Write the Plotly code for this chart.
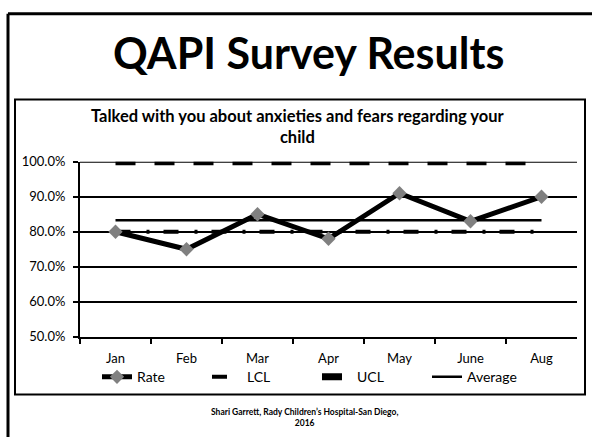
import plotly.graph_objects as go

months = ["Jan", "Feb", "Mar", "Apr", "May", "June", "Aug"]
rate = [80.0, 75.0, 85.0, 78.0, 91.0, 83.0, 90.0]
lcl = [80.0, 80.0, 80.0, 80.0, 80.0, 80.0, 80.0]
ucl = [100.0, 100.0, 100.0, 100.0, 100.0, 100.0, 100.0]
average = [83.3, 83.3, 83.3, 83.3, 83.3, 83.3, 83.3]
y_ticks = [50, 60, 70, 80, 90, 100]
y_tick_labels = ["50.0%", "60.0%", "70.0%", "80.0%", "90.0%", "100.0%"]

W, H = 592, 445
FONT = "Lato"

fig = go.Figure()
fig.add_trace(go.Scatter(x=months, y=lcl, name="LCL", mode="lines",
                         line=dict(color="black", width=4, dash="15px,16px,3px,14px")))
fig.add_trace(go.Scatter(x=months, y=ucl, name="UCL", mode="lines",
                         line=dict(color="black", width=7, dash="20px,19px")))
fig.add_trace(go.Scatter(x=months, y=average, name="Average", mode="lines",
                         line=dict(color="black", width=2.5)))
fig.add_trace(go.Scatter(x=months, y=rate, name="Rate", mode="lines+markers",
                         line=dict(color="black", width=5),
                         marker=dict(symbol="diamond", size=11, color="#808080")))

def px_x(p):
    return p / W

def px_y(p):
    return 1 - p / H

X0, X1 = px_x(80), px_x(577)
shapes = [
    # outer slide frame
    dict(type="line", xref="paper", yref="paper", x0=px_x(8), x1=1.0, y0=px_y(6), y1=px_y(6),
         line=dict(color="black", width=3)),
    dict(type="line", xref="paper", yref="paper", x0=px_x(8), x1=px_x(8), y0=px_y(6), y1=0,
         line=dict(color="black", width=3)),
    # chart box
    dict(type="rect", xref="paper", yref="paper", x0=px_x(15), x1=px_x(585), y0=px_y(95), y1=px_y(401),
         line=dict(color="black", width=2)),
    # top gridline at 100%
    dict(type="line", xref="paper", yref="y", x0=X0, x1=X1, y0=100, y1=100,
         line=dict(color="black", width=2), layer="above"),
]

annotations = [
    dict(text="<b>QAPI Survey Results</b>", x=px_x(308), y=px_y(46), xref="paper", yref="paper",
         showarrow=False, font=dict(family=FONT, size=43, color="black"), xanchor="center", yanchor="middle"),
    dict(text="<b>Talked with you about anxieties and fears regarding your<br>child</b>",
         x=px_x(298), y=px_y(123), xref="paper", yref="paper", showarrow=False,
         font=dict(family=FONT, size=16.5, color="black"), xanchor="center", yanchor="middle"),
    dict(text="<b>Shari Garrett, Rady Children’s Hospital-San Diego,<br>2016</b>",
         x=px_x(304), y=px_y(425), xref="paper", yref="paper", showarrow=False,
         font=dict(family=FONT, size=8.5, color="black"), xanchor="center", yanchor="middle"),
]

fig.update_layout(
    width=W, height=H, margin=dict(l=0, r=0, t=0, b=0),
    paper_bgcolor="white", plot_bgcolor="white",
    font=dict(family=FONT, color="black"),
    shapes=shapes, annotations=annotations,
    legend=dict(orientation="h", x=px_x(97), y=px_y(383), xanchor="left", yanchor="middle",
                traceorder="normal", entrywidth=65, entrywidthmode="pixels",
                font=dict(family=FONT, size=14, color="black"), bgcolor="rgba(0,0,0,0)"),
    xaxis=dict(domain=[X0, X1], type="category", range=[-0.5, 6.5],
               showline=True, linecolor="black", linewidth=2, showgrid=False,
               ticks="outside", ticklen=5, tickcolor="black", tickwidth=1.5, tickson="boundaries",
               ticklabelstandoff=9,
               tickfont=dict(family=FONT, size=13, color="black"), fixedrange=True),
    yaxis=dict(domain=[px_y(341), px_y(159.5)], range=[50, 100],
               tickvals=y_ticks, ticktext=y_tick_labels,
               showline=True, linecolor="black", linewidth=2,
               showgrid=True, gridcolor="black", gridwidth=1.5,
               ticks="outside", ticklen=5, tickcolor="black", tickwidth=1.5,
               ticklabelstandoff=5,
               tickfont=dict(family=FONT, size=13, color="black"), zeroline=False, fixedrange=True),
)

# Legend order: Rate, LCL, UCL, Average
fig.data[3].legendrank = 1
fig.data[0].legendrank = 2
fig.data[1].legendrank = 3
fig.data[2].legendrank = 4

fig.write_html("out.html")
